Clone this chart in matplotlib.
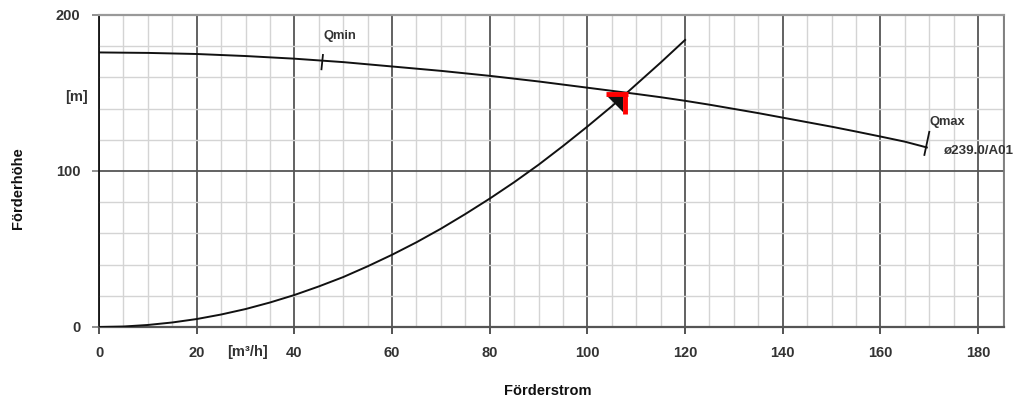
import matplotlib
matplotlib.use("Agg")
import matplotlib.pyplot as plt
from matplotlib.ticker import MultipleLocator, FixedLocator

plt.rcParams['font.family'] = ['Liberation Sans', 'DejaVu Sans']

# ---- data ----
pump_q = [0, 10, 20, 30, 40, 50, 60, 70, 80, 90, 100, 105, 110, 115, 120, 125, 130, 135,
          140, 145, 150, 155, 160, 165, 169.5]
pump_h = [176, 175.7, 175, 173.7, 172, 169.8, 167, 164.2, 161, 157.4, 153.4, 151.4, 149.4,
          147.3, 145, 142.5, 139.8, 137.1, 134.2, 131.3, 128.4, 125.3, 122.1, 118.8, 115.1]
sys_q = [0, 5, 10, 15, 20, 25, 30, 35, 40, 45, 50, 55, 60, 65, 70, 75, 80, 85, 90, 95,
         100, 105, 110, 115, 120]
sys_h = [0, 0.3, 1.3, 2.9, 5.1, 8, 11.5, 15.7, 20.5, 26, 32, 38.9, 46.3, 54.3, 63, 72.4,
         82.3, 92.8, 104, 116, 128.5, 141.5, 155.5, 169.5, 184]
qmin_q, qmin_h = 45.7, 170.9
qmax_q, qmax_h = 169.5, 115.1
op_q, op_h = 108.0, 150.2
x_ticks = [0, 20, 40, 60, 80, 100, 120, 140, 160, 180]
y_ticks = [0, 100, 200]
curve_label = "ø239.0/A01"

W, H = 1018, 398
fig = plt.figure(figsize=(W / 100, H / 100), dpi=100)
ax = fig.add_axes([99 / W, 1 - 327 / H, (1004 - 99) / W, (327 - 15) / H])
ax.set_xlim(0, 185.3)
ax.set_ylim(0, 200)

txt_col = '#333333'
ax.xaxis.set_major_locator(FixedLocator(x_ticks))
ax.yaxis.set_major_locator(FixedLocator(y_ticks))
ax.xaxis.set_minor_locator(MultipleLocator(5))
ax.yaxis.set_minor_locator(MultipleLocator(20))
ax.set_axisbelow(True)
ax.grid(which='minor', color='#d4d4d4', lw=1.0)
ax.grid(which='major', axis='x', color='#555555', lw=1.3)
ax.grid(which='major', axis='y', color='#555555', lw=1.3)
ax.tick_params(which='minor', length=0)
ax.tick_params(axis='x', which='major', length=5, width=1.3, color='#444444', pad=8.5,
               labelsize=10.5, labelcolor=txt_col)
ax.tick_params(axis='y', which='major', length=5, width=1.3, color='#888888', pad=8.5,
               labelsize=10.5, labelcolor=txt_col)
for lab in ax.get_xticklabels() + ax.get_yticklabels():
    lab.set_fontweight('bold')

ax.spines['left'].set_color('#111111'); ax.spines['left'].set_linewidth(1.3)
ax.spines['bottom'].set_color('#555555'); ax.spines['bottom'].set_linewidth(1.6)
ax.spines['top'].set_color('#999999'); ax.spines['top'].set_linewidth(1.6)
ax.spines['right'].set_color('#777777'); ax.spines['right'].set_linewidth(1.3)

# curves
ax.plot(pump_q, pump_h, color='#111111', lw=1.4, zorder=3)
ax.plot(sys_q, sys_h, color='#111111', lw=1.4, zorder=3)

# Qmin / Qmax marks
ax.plot([qmin_q + 0.15, qmin_q - 0.15], [qmin_h + 3.5, qmin_h - 5.7], color='#111111', lw=1.3, zorder=3)
ax.plot([qmax_q + 0.5, qmax_q - 0.5], [qmax_h + 10, qmax_h - 4.8], color='#111111', lw=1.3, zorder=3)
ax.text(qmin_q + 0.2, qmin_h + 15.6, "Qmin", fontsize=9.3, fontweight='bold', color=txt_col,
        ha='left', va='center')
ax.text(qmax_q + 0.5, qmax_h + 16, "Qmax", fontsize=9.3, fontweight='bold', color=txt_col,
        ha='left', va='center')
ax.text(qmax_q + 3.3, qmax_h - 2.6, curve_label, fontsize=9.6, fontweight='bold', color=txt_col,
        ha='left', va='center', clip_on=False)

# operating point marker
ax.fill([op_q - 4.0, op_q - 0.8, op_q - 0.8], [op_h - 2.2, op_h - 2.2, op_h - 12.5],
        color='#111111', zorder=4, lw=0)
ax.plot([op_q - 4.2, op_q + 0.3], [op_h - 1.0, op_h - 1.0], color='#ff0000', lw=3.5,
        solid_capstyle='butt', zorder=5)
ax.plot([op_q - 0.2, op_q - 0.2], [op_h + 0.4, op_h - 13.6], color='#ff0000', lw=3.5,
        solid_capstyle='butt', zorder=5)

# unit labels
ax.text(30.5, -16.2, "[m³/h]", fontsize=10.5, fontweight='bold', color=txt_col,
        ha='center', va='center', clip_on=False)
fig.text(88 / W, 1 - 97 / H, "[m]", fontsize=10.5, fontweight='bold', color=txt_col,
         ha='right', va='center')
fig.text(18 / W, 1 - 188 / H, "Förderhöhe", fontsize=10.5, fontweight='bold', color='#111111',
         rotation=90, ha='center', va='center')
fig.text(548 / W, 1 - 384 / H, "Förderstrom", fontsize=10.5, fontweight='bold', color='#111111',
         ha='center', va='top')

fig.savefig("out.png", dpi=100)
